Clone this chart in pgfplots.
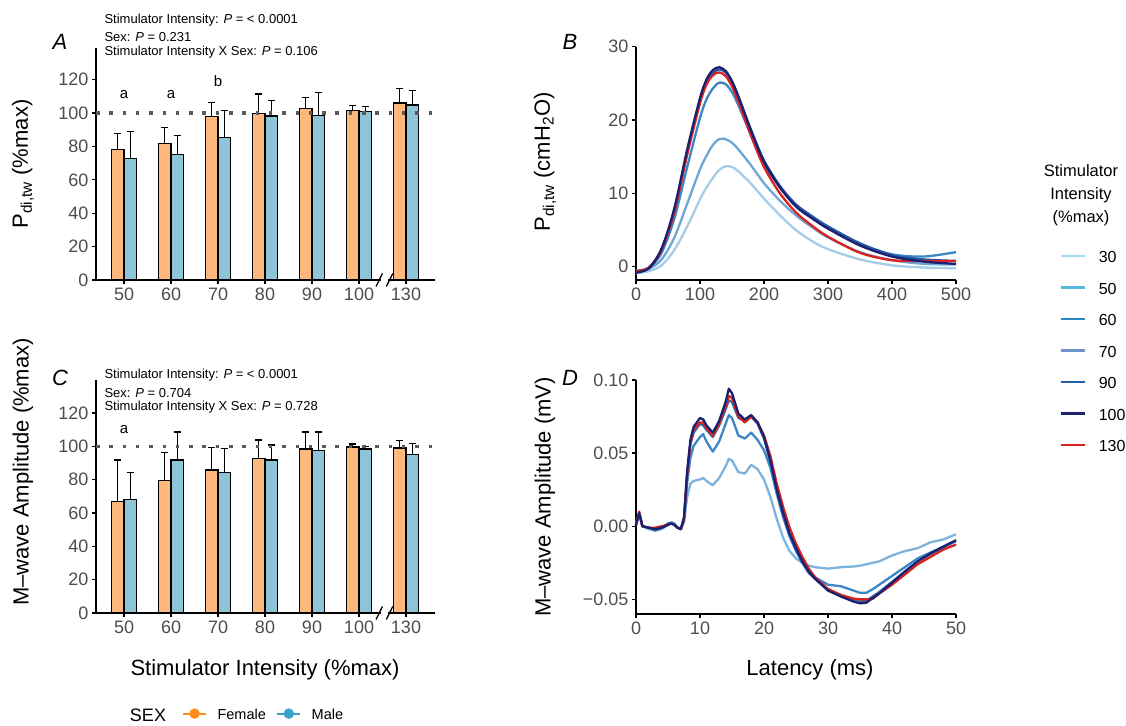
\documentclass[border=0pt]{standalone}
\usepackage{fontspec}
\setmainfont{Liberation Sans}
\usepackage{pgfplots}
\usepackage{pgfplotstable}
\pgfplotsset{compat=1.18}

\definecolor{femfill}{HTML}{FDB97D}
\definecolor{malefill}{HTML}{8EC4D8}
\definecolor{femdot}{HTML}{FF8C1A}
\definecolor{maledot}{HTML}{3AA2C9}
\definecolor{tickgray}{HTML}{4D4D4D}
\definecolor{dotgray}{HTML}{5A5A5A}
\definecolor{L30}{HTML}{A6DCEF}
\definecolor{L50}{HTML}{55B9E0}
\definecolor{L60}{HTML}{2B86C4}
\definecolor{L70}{HTML}{6A95C4}
\definecolor{L90}{HTML}{2063AA}
\definecolor{L100}{HTML}{1B2170}
\definecolor{L130}{HTML}{D9231E}
\definecolor{cB30}{HTML}{A5CDE8}
\definecolor{cB50}{HTML}{6EA7D6}
\definecolor{cB60}{HTML}{3B87C4}
\definecolor{cB90}{HTML}{2458A3}
\definecolor{cD50}{HTML}{7DB3DC}
\definecolor{cD70}{HTML}{3D86C4}
\definecolor{cD90}{HTML}{2F6DB0}

\newcommand{\fs}[1]{\fontsize{#1}{#1}\selectfont}

\pgfplotsset{
  panel/.style={
    scale only axis, clip=false,
    axis x line*=bottom, axis y line*=left,
    axis line style={line width=1.3pt, black},
    tick style={line width=1.3pt, black},
    tick align=outside, major tick length=4pt,
    ticklabel style={font=\fs{18}, text=tickgray},
    /pgf/number format/assume math mode=true,
  },
  barF/.style={ybar, bar width=12.3pt, bar shift=-6.15pt, fill=femfill, draw=black, line width=1.2pt, forget plot},
  barM/.style={ybar, bar width=12.3pt, bar shift=6.15pt, fill=malefill, draw=black, line width=1.2pt, forget plot},
  errs/.style={forget plot, draw=none, mark=none,
    error bars/.cd, y dir=plus, y explicit,
    error bar style={draw=black, line width=1.2pt, solid},
    error mark options={draw=black, rotate=90, mark size=3.6pt, line width=1.2pt, solid}},
  refline/.style={draw=dotgray, line width=3.5pt, dash pattern=on 3.5pt off 9.8pt, forget plot},
  curve/.style={line width=2.3pt, forget plot, line join=round},
}

\pgfplotstableread{
x c30 c50 c60 c90 c100 c130
0 -0.9 -0.6 -0.5 -0.7 -0.8 -0.6
20 -0.6 -0.3 -0.2 -0.2 -0.2 -0.1
40 0.2 1.0 1.9 2.3 2.5 2.3
60 2.3 4.0 6.6 7.8 8.0 7.5
80 5.5 8.6 13.6 15.6 16.0 15.3
100 9.2 13.3 20.3 22.6 23.0 22.3
110 10.8 15.1 22.8 25.1 25.5 24.8
120 12.1 16.6 24.3 26.4 26.8 26.1
130 13.2 17.4 25.1 26.9 27.2 26.5
140 13.7 17.4 24.9 26.5 26.7 26.0
150 13.6 16.9 23.8 25.2 25.3 24.6
160 13.0 16.0 22.0 23.2 23.2 22.5
180 11.3 13.8 17.9 18.6 18.5 17.8
200 9.3 11.4 14.1 14.5 14.3 13.6
225 7.0 9.0 10.8 11.0 10.8 10.0
250 5.0 7.0 8.4 8.5 8.2 7.4
275 3.5 5.4 6.8 6.9 6.6 5.6
300 2.4 4.0 5.3 5.5 5.2 4.1
350 1.0 2.0 3.1 3.2 2.9 1.9
400 0.2 0.9 1.7 1.6 1.4 0.9
450 -0.1 0.4 1.4 1.0 0.7 0.8
500 -0.2 0.3 2.0 0.8 0.4 0.8
}\Btab

\pgfplotstableread{
x d50 d70 d90 d100 d130
0 0.001 0.001 0.001 0.001 0.001
0.5 0.008 0.009 0.009 0.009 0.010
1 0.000 0.000 0.000 0.000 0.000
2 -0.002 -0.001 -0.001 -0.001 -0.001
3 -0.003 -0.003 -0.002 -0.002 -0.001
4 -0.002 -0.001 -0.001 -0.001 0.000
5 0.001 0.002 0.001 0.001 0.001
5.5 0.003 0.002 0.002 0.002 0.002
6 0.002 0.001 0.001 0.001 0.001
6.5 -0.001 -0.001 -0.001 -0.001 -0.001
7 -0.002 -0.002 -0.002 -0.002 -0.002
7.5 0.003 0.004 0.005 0.006 0.005
8 0.020 0.030 0.036 0.038 0.036
8.5 0.029 0.047 0.056 0.059 0.057
9 0.031 0.055 0.064 0.068 0.066
10 0.032 0.061 0.070 0.074 0.071
10.5 0.033 0.063 0.069 0.073 0.071
11 0.031 0.058 0.066 0.069 0.067
12 0.028 0.051 0.061 0.064 0.062
13 0.033 0.058 0.069 0.072 0.070
14 0.041 0.070 0.080 0.085 0.082
14.5 0.046 0.076 0.086 0.094 0.089
15 0.045 0.074 0.085 0.091 0.088
16 0.037 0.062 0.074 0.077 0.075
17 0.036 0.060 0.072 0.073 0.071
18 0.042 0.064 0.075 0.076 0.075
19 0.039 0.059 0.070 0.071 0.071
20 0.032 0.052 0.060 0.061 0.062
21 0.020 0.040 0.044 0.045 0.048
22 0.005 0.022 0.024 0.025 0.029
23 -0.008 0.006 0.007 0.009 0.013
24 -0.017 -0.007 -0.006 -0.005 -0.001
25 -0.022 -0.017 -0.016 -0.015 -0.012
26 -0.025 -0.025 -0.025 -0.024 -0.021
27 -0.027 -0.031 -0.032 -0.031 -0.029
28 -0.028 -0.035 -0.036 -0.036 -0.035
30 -0.029 -0.040 -0.043 -0.044 -0.043
32 -0.028 -0.041 -0.047 -0.048 -0.047
34 -0.0275 -0.044 -0.050 -0.0515 -0.0495
35 -0.027 -0.0455 -0.051 -0.0527 -0.050
36 -0.026 -0.0455 -0.051 -0.0523 -0.050
37 -0.025 -0.043 -0.048 -0.049 -0.0495
38 -0.024 -0.040 -0.045 -0.046 -0.046
40 -0.020 -0.034 -0.038 -0.0386 -0.040
42 -0.017 -0.028 -0.031 -0.031 -0.033
44 -0.015 -0.022 -0.024 -0.024 -0.026
46 -0.011 -0.018 -0.019 -0.0186 -0.021
48 -0.009 -0.014 -0.0145 -0.014 -0.016
50 -0.0055 -0.010 -0.010 -0.0095 -0.0125
}\Dtab

\begin{document}
\begin{tikzpicture}[x=1pt,y=1pt]
\useasboundingbox (0pt,0pt) rectangle (1126pt,725pt);

% ---------------- Panel A ----------------
\begin{axis}[panel, at={(96pt,445pt)}, anchor=south west, width=339pt, height=232pt,
  xmin=-0.596, xmax=6.617, ymin=0, ymax=139,
  xtick={0,...,6}, xticklabels={50,60,70,80,90,100,130}, ytick={0,20,...,120}]
\addplot[barF] coordinates {(0,78.2) (1,81.6) (2,98.0) (3,99.6) (4,102.8) (5,101.4) (6,106.0)};
\addplot[barM] coordinates {(0,73.0) (1,75.0) (2,85.4) (3,98.2) (4,98.6) (5,101.0) (6,104.8)};
\addplot[errs] coordinates {(-0.131,78.2)+-(0,9.4) (0.869,81.6)+-(0,9.8) (1.869,98.0)+-(0,8.4) (2.869,99.6)+-(0,11.8) (3.869,102.8)+-(0,6.6) (4.869,101.4)+-(0,3.0) (5.869,106.0)+-(0,8.6)};
\addplot[errs] coordinates {(0.131,73.0)+-(0,16.0) (1.131,75.0)+-(0,11.6) (2.131,85.4)+-(0,16.0) (3.131,98.2)+-(0,9.2) (4.131,98.6)+-(0,13.8) (5.131,101.0)+-(0,2.8) (6.131,104.8)+-(0,8.8)};
\addplot[refline] coordinates {(-0.596,100) (6.617,100)};
\fill[white] ([yshift=-1.5pt]axis cs:5.46,0) rectangle ([yshift=1.5pt]axis cs:5.62,0);
\draw[line width=1.3pt] ([xshift=-3.2pt,yshift=-6.5pt]axis cs:5.43,0) -- ([xshift=3.2pt,yshift=6.5pt]axis cs:5.43,0);
\draw[line width=1.3pt] ([xshift=-3.2pt,yshift=-6.5pt]axis cs:5.65,0) -- ([xshift=3.2pt,yshift=6.5pt]axis cs:5.65,0);
\node[font=\fs{15}] at (axis cs:0,111) {a};
\node[font=\fs{15}] at (axis cs:1,111) {a};
\node[font=\fs{15}] at (axis cs:2,119) {b};
\end{axis}

% ---------------- Panel C ----------------
\begin{axis}[panel, at={(96pt,112pt)}, anchor=south west, width=339pt, height=233pt,
  xmin=-0.596, xmax=6.617, ymin=0, ymax=139.8,
  xtick={0,...,6}, xticklabels={50,60,70,80,90,100,130}, ytick={0,20,...,120},
  legend columns=4,
  legend style={at={(0.245,-0.40)}, anchor=north west, draw=none, fill=none,
    font=\fs{14.5}, column sep=10.5pt, nodes={inner sep=0pt, text height=10.5pt, text depth=0pt}},
  legend image code/.code={\draw[#1, line width=1.8pt] (0pt,1pt) -- (23pt,1pt); \fill[#1] (11.5pt,1pt) circle (5pt);}]
\addplot[barF] coordinates {(0,66.8) (1,79.4) (2,85.8) (3,92.8) (4,98.4) (5,99.6) (6,99.0)};
\addplot[barM] coordinates {(0,68.2) (1,91.8) (2,84.4) (3,91.8) (4,97.6) (5,98.4) (6,95.0)};
\addplot[errs] coordinates {(-0.131,66.8)+-(0,25.0) (0.869,79.4)+-(0,16.8) (1.869,85.8)+-(0,13.4) (2.869,92.8)+-(0,11.0) (3.869,98.4)+-(0,10.2) (4.869,99.6)+-(0,1.8) (5.869,99.0)+-(0,4.4)};
\addplot[errs] coordinates {(0.131,68.2)+-(0,16.2) (1.131,91.8)+-(0,16.8) (2.131,84.4)+-(0,14.2) (3.131,91.8)+-(0,9.0) (4.131,97.6)+-(0,11.0) (5.131,98.4)+-(0,1.6) (6.131,95.0)+-(0,6.8)};
\addplot[refline] coordinates {(-0.596,100) (6.617,100)};
\fill[white] ([yshift=-1.5pt]axis cs:5.46,0) rectangle ([yshift=1.5pt]axis cs:5.62,0);
\draw[line width=1.3pt] ([xshift=-3.2pt,yshift=-6.5pt]axis cs:5.43,0) -- ([xshift=3.2pt,yshift=6.5pt]axis cs:5.43,0);
\draw[line width=1.3pt] ([xshift=-3.2pt,yshift=-6.5pt]axis cs:5.65,0) -- ([xshift=3.2pt,yshift=6.5pt]axis cs:5.65,0);
\node[font=\fs{15}] at (axis cs:0,110) {a};
\addlegendimage{color=femdot}\addlegendentry{Female}
\addlegendimage{color=maledot}\addlegendentry{Male}
\end{axis}

% ---------------- Panel B ----------------
\begin{axis}[panel, at={(636pt,445pt)}, anchor=south west, width=320pt, height=233.3pt,
  xmin=0, xmax=500, ymin=-1.8, ymax=30,
  xtick={0,100,...,500}, ytick={0,10,20,30},
  legend cell align=left,
  legend style={at={(1.3125,0.133)}, anchor=north west, draw=none, fill=none,
    font=\fs{16}, row sep=20pt, column sep=13pt, nodes={inner sep=0pt, text height=11.5pt, text depth=0pt}},
  legend image code/.code={\draw[#1, line width=2.6pt] (0pt,0.75pt) -- (24pt,0.75pt);}]
\addplot[curve, cB30, smooth] table[x=x, y=c30] {\Btab};
\addplot[curve, cB50, smooth] table[x=x, y=c50] {\Btab};
\addplot[curve, cB60, smooth] table[x=x, y=c60] {\Btab};
\addplot[curve, cB90, smooth] table[x=x, y=c90] {\Btab};
\addplot[curve, L130, smooth] table[x=x, y=c130] {\Btab};
\addplot[curve, L100, smooth] table[x=x, y=c100] {\Btab};
\addlegendimage{color=L30}\addlegendentry{30}
\addlegendimage{color=L50}\addlegendentry{50}
\addlegendimage{color=L60}\addlegendentry{60}
\addlegendimage{color=L70}\addlegendentry{70}
\addlegendimage{color=L90}\addlegendentry{90}
\addlegendimage{color=L100}\addlegendentry{100}
\addlegendimage{color=L130}\addlegendentry{130}
\end{axis}

% ---------------- Panel D ----------------
\begin{axis}[panel, at={(636pt,111pt)}, anchor=south west, width=320pt, height=234pt,
  xmin=0, xmax=50, ymin=-0.06, ymax=0.1,
  xtick={0,10,...,50}, ytick={-0.05,0,0.05,0.1}, yticklabels={−0.05,0.00,0.05,0.10}]
\addplot[curve, cD50] table[x=x, y=d50] {\Dtab};
\addplot[curve, cD70] table[x=x, y=d70] {\Dtab};
\addplot[curve, cD90] table[x=x, y=d90] {\Dtab};
\addplot[curve, L130] table[x=x, y=d130] {\Dtab};
\addplot[curve, L100] table[x=x, y=d100] {\Dtab};
\end{axis}

% ---------------- Texts ----------------
\node[font=\itshape\fs{22}] at (60pt,683pt) {A};
\node[font=\itshape\fs{22}] at (60pt,347pt) {C};
\node[font=\itshape\fs{22}] at (570pt,683pt) {B};
\node[font=\itshape\fs{22}] at (570pt,347pt) {D};

\node[anchor=west, font=\fs{13}] at (101pt,705pt) {Stimulator Intensity: \textit{P} = < 0.0001};
\node[anchor=west, font=\fs{13}] at (101pt,688pt) {Sex: \textit{P} = 0.231};
\node[anchor=west, font=\fs{13}] at (101pt,673pt) {Stimulator Intensity X Sex: \textit{P} = 0.106};

\node[anchor=west, font=\fs{13}] at (101pt,350pt) {Stimulator Intensity: \textit{P} = < 0.0001};
\node[anchor=west, font=\fs{13}] at (101pt,332pt) {Sex: \textit{P} = 0.704};
\node[anchor=west, font=\fs{13}] at (101pt,318pt) {Stimulator Intensity X Sex: \textit{P} = 0.728};

\node[rotate=90, font=\fs{22}] at (23pt,561pt) {P\textsubscript{di,tw} (\%max)};
\node[rotate=90, font=\fs{22}] at (23pt,253pt) {M\textendash wave Amplitude (\%max)};
\node[rotate=90, font=\fs{22}] at (545pt,563pt) {P\textsubscript{di,tw} (cmH\textsubscript{2}O)};
\node[rotate=90, font=\fs{22}] at (545pt,228pt) {M\textendash wave Amplitude (mV)};

\node[font=\fs{22}] at (265pt,55pt) {Stimulator Intensity (\%max)};
\node[font=\fs{22}] at (810pt,55pt) {Latency (ms)};

\node[font=\fs{18}] at (148pt,10pt) {SEX};
\node[align=center, font=\fontsize{16.5}{23}\selectfont] at (1081pt,530pt) {Stimulator\\Intensity\\(\%max)};
\end{tikzpicture}
\end{document}
